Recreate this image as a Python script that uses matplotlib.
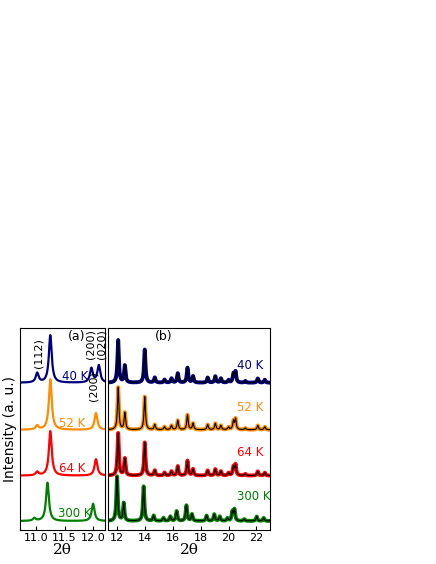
import numpy as np
import matplotlib
matplotlib.use("Agg")
import matplotlib.pyplot as plt

temps = ["40 K", "52 K", "64 K", "300 K"]
colors = ["#000080", "#ff8c00", "#ff0000", "#008000"]
offsets = [0.73, 0.497, 0.27, 0.045]

# panel (a): peak positions / relative heights per temperature
a_pos = [[11.02, 11.25, 11.97, 12.10],
         [11.02, 11.25, 12.05],
         [11.02, 11.25, 12.05],
         [10.97, 11.20, 12.00]]
a_hgt = [[0.2, 1.0, 0.3, 0.36],
         [0.08, 1.0, 0.33],
         [0.08, 1.0, 0.37],
         [0.07, 1.0, 0.45]]
a_scale = [0.235, 0.25, 0.22, 0.19]

# panel (b)
b_pos = [12.07, 12.55, 13.98, 14.7, 15.4, 15.9, 16.35, 17.05, 17.45, 18.5,
         19.05, 19.45, 20.0, 20.35, 20.5, 21.2, 22.1, 22.6]
b_hgt = [1.0, 0.4, 0.78, 0.12, 0.07, 0.1, 0.22, 0.35, 0.15, 0.12,
         0.15, 0.1, 0.06, 0.2, 0.25, 0.04, 0.1, 0.07]
b_shift = [0.0, 0.0, 0.0, -0.08]
b_scale = [0.21, 0.21, 0.21, 0.22]

def prof(x, pos, hgt, w):
    y = np.zeros_like(x)
    for p, h in zip(pos, hgt):
        y += h * w**2 / ((x - p)**2 + w**2)
    return y

fig = plt.figure(figsize=(4.36, 5.64), dpi=100)
axa = fig.add_axes([0.046, 0.060, 0.195, 0.358])
axb = fig.add_axes([0.248, 0.060, 0.372, 0.358])

xa = np.linspace(10.72, 12.21, 800)
for i in range(4):
    y = prof(xa, a_pos[i], a_hgt[i], 0.03)
    axa.plot(xa, offsets[i] + a_scale[i] * y, color=colors[i], lw=1.6)
axa.set_xlim(10.72, 12.21)
axa.set_ylim(0, 1)
axa.set_yticks([])
axa.set_xticks([11.0, 11.5, 12.0])
axa.set_xticklabels(["11.0", "11.5", "12.0"])
axa.text(11.55, 0.99, "(a)", fontsize=9, va="top")
axa.text(11.04, 0.95, "(112)", rotation=90, fontsize=8, va="top", ha="center")
axa.text(11.96, 0.995, "(200)", rotation=90, fontsize=8, va="top", ha="center")
axa.text(12.14, 0.995, "(020)", rotation=90, fontsize=8, va="top", ha="center")
axa.text(12.0, 0.79, "(200)", rotation=90, fontsize=8, va="top", ha="center")
lab_y = [0.745, 0.51, 0.29, 0.065]
lab_x = [11.45, 11.41, 11.41, 11.38]
for i in range(4):
    axa.text(lab_x[i], lab_y[i], temps[i], color=colors[i], fontsize=8.5)
axa.set_ylabel("Intensity (a. u.)", fontsize=10, labelpad=2)
axa.set_xlabel("2θ", fontsize=11, family="DejaVu Serif", labelpad=0)

xb = np.linspace(11.35, 23.0, 3000)
for i in range(4):
    y = prof(xb, np.array(b_pos) + b_shift[i], b_hgt, 0.06)
    axb.plot(xb, offsets[i] + b_scale[i] * y, color=colors[i], lw=2.8)
    axb.plot(xb, offsets[i] + b_scale[i] * y, color="black", lw=0.8)
axb.set_xlim(11.35, 23.0)
axb.set_ylim(0, 1)
axb.set_yticks([])
axb.set_xticks([12, 14, 16, 18, 20, 22])
axb.text(14.7, 0.94, "(b)", fontsize=9)
blab_y = [0.8, 0.59, 0.365, 0.15]
for i in range(4):
    axb.text(20.6, blab_y[i], temps[i], color=colors[i], fontsize=8.5)
axb.set_xlabel("2θ", fontsize=11, family="DejaVu Serif", labelpad=0)

for ax in (axa, axb):
    ax.tick_params(direction="in", labelsize=8, pad=2, length=3)

fig.savefig("out.png", dpi=100)
